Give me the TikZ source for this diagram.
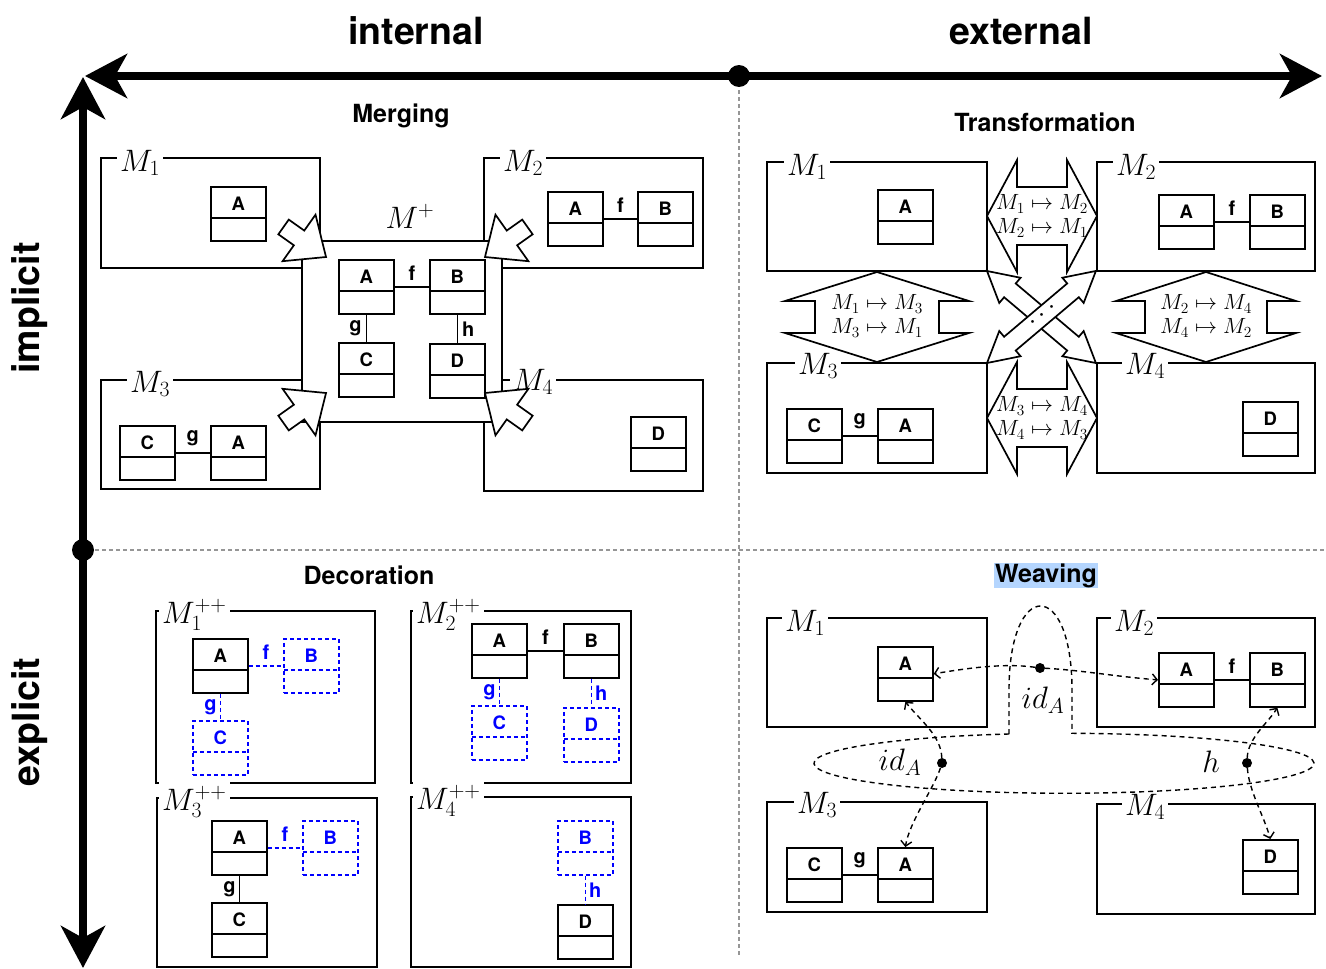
\documentclass[tikz,border=0pt]{standalone}
\usepackage{fix-cm}
\usepackage{fontspec}
\newfontfamily\hv{TeX Gyre Heros}
\usetikzlibrary{arrows.meta,calc}
\newcommand\ClsFont{\hv\bfseries\fontsize{18.5}{21}\selectfont}
\newcommand\LabFont{\hv\bfseries\fontsize{20}{22}\selectfont}
\newcommand\TitleFont{\hv\bfseries\fontsize{25}{28}\selectfont}
\newcommand\AxisFont{\hv\bfseries\fontsize{37.5}{40}\selectfont}
\newcommand\MFont{\fontsize{31}{34}\selectfont}
\newcommand\ArrFont{\fontsize{22}{24}\selectfont}
\definecolor{hl}{RGB}{180,213,254}
\definecolor{divgray}{RGB}{150,150,150}
\tikzset{
  pics/dblarrow/.style n args={4}{code={
    \draw[shp] (0,0) -- (#2,-#3) -- (#2,-#4) -- ({#1-#2},-#4) -- ({#1-#2},-#3) -- (#1,0)
      -- ({#1-#2},#3) -- ({#1-#2},#4) -- (#2,#4) -- (#2,#3) -- cycle;
  }},
  pics/mrgarrow/.style={code={
    \draw[shp] (0,0) -- (-33,-28.5) -- (-33,-9) -- (-52,-9) -- (-52,9) -- (-33,9) -- (-33,28.5) -- cycle;
  }},
}
\begin{document}
\begin{tikzpicture}[x=1pt,y=-1pt,
  frame/.style={draw, line width=1.9pt},
  mlab/.style={fill=white, inner xsep=3pt, inner ysep=3pt, anchor=base west, font=\MFont},
  dlab/.style={mlab, inner ysep=7pt},
  divider/.style={line width=1.7pt},
  cls/.style={draw, line width=1.7pt, fill=white, minimum width=55pt, minimum height=54pt,
    inner sep=0pt, text height=13pt, text depth=19pt, font=\ClsFont, anchor=north west,
    path picture={\draw[divider] ([yshift=-31pt]path picture bounding box.north west) -- ([yshift=-31pt]path picture bounding box.north east);}},
  dcls/.style={cls, draw=blue, text=blue, dash pattern=on 4pt off 3pt,
    divider/.style={line width=1.7pt, draw=blue, dash pattern=on 4pt off 3pt}},
  conn/.style={draw, line width=1.7pt},
  dconn/.style={draw=blue, line width=1.7pt, dash pattern=on 4pt off 3pt},
  lab/.style={font=\LabFont, inner sep=1pt},
  blab/.style={lab, text=blue},
  shp/.style={draw, fill=white, line width=1.7pt, line join=miter},
  arrtext/.style={align=center, font=\ArrFont, inner sep=0pt},
  divline/.style={draw=divgray, line width=1.3pt, dash pattern=on 4pt off 3pt},
  axis/.style={line width=8pt, {Stealth[length=42pt,width=44pt,inset=12pt]}-{Stealth[length=42pt,width=44pt,inset=12pt]}},
  bigdot/.style={circle, fill=black, inner sep=0pt, minimum size=22pt},
  wdot/.style={circle, fill=black, inner sep=0pt, minimum size=10pt},
  lasso/.style={draw, line width=1.4pt, dash pattern=on 5pt off 4pt},
  warr/.style={draw, line width=1.4pt, dash pattern=on 5pt off 4pt, -{Straight Barb[length=5pt,width=11pt]}},
  ttl/.style={font=\TitleFont, anchor=base},
]
\useasboundingbox (0,0) rectangle (1326,969);

% ---------- dividers ----------
\coordinate (vdT) at (739,90); \coordinate (vdB) at (739,955);
\coordinate (hdL) at (95,550); \coordinate (hdR) at (1326,550);
\draw[divline] (vdT) -- (vdB);
\draw[divline] (hdL) -- (hdR);

% ---------- axes ----------
\coordinate (axL) at (85,76); \coordinate (axR) at (1322,76);
\coordinate (ayT) at (83,77); \coordinate (ayB) at (83,968);
\draw[axis] (axL) -- (axR);
\draw[axis] (ayT) -- (ayB);
\node[bigdot] (ox) at (739,76) {};
\node[bigdot] (oy) at (83,550) {};

\node[font=\AxisFont, anchor=base] (hInt) at (416,44) {internal};
\node[font=\AxisFont, anchor=base] (hExt) at (1021,44) {external};
\node[font=\AxisFont, rotate=90] (vImp) at (30,308) {implicit};
\node[font=\AxisFont, rotate=90] (vExp) at (30,722) {explicit};

% ---------- titles ----------
\node[ttl] (tMerg) at (401,122) {Merging};
\node[ttl] (tTrans) at (1045,131) {Transformation};
\node[ttl] (tDeco) at (369,584) {Decoration};
\node[ttl, fill=hl, inner xsep=1pt, inner ysep=0pt, text height=19pt, text depth=6pt] (tWeav) at (1046,582) {Weaving};

% ================= MERGING =================
\draw[frame] (101,158) rectangle (320,268);
\node[mlab] (gM1) at (117,171) {$M_1$};
\node[cls] (gA1) at (210,186) {A};

\draw[frame] (484,158) rectangle (703,268);
\node[mlab] (gM2) at (500,171) {$M_2$};
\node[cls] (gA2) at (547,191) {A};
\node[cls] (gB2) at (637,191) {B};
\draw[conn] (gA2.east) -- node[lab, above=5pt] {f} (gB2.west);

\draw[frame] (101,380) rectangle (320,489);
\node[mlab] (gM3) at (127,392) {$M_3$};
\node[cls] (gC3) at (119,425) {C};
\node[cls] (gA3) at (210,425) {A};
\draw[conn] (gC3.east) -- node[lab, above=5pt] {g} (gA3.west);

\draw[frame] (484,380) rectangle (703,491);
\node[mlab] (gM4) at (510,390) {$M_4$};
\node[cls] (gD4) at (630,416) {D};

\draw[frame, fill=white] (302,241) rectangle (502,422);
\node[font=\MFont, anchor=base] (gMp) at (410,228) {$M^+$};
\node[cls] (pA) at (338,259) {A};
\node[cls] (pB) at (429,259) {B};
\node[cls] (pC) at (338,342) {C};
\node[cls] (pD) at (429,343) {D};
\draw[conn] (pA.east) -- node[lab, above=5pt] {f} (pB.west);
\draw[conn] (pA.south) -- node[lab, left=3pt] {g} (pC.north);
\draw[conn] (pB.south) -- node[lab, right=3pt] {h} (pD.north);

\pic[rotate=-35.3] at (326,257) {mrgarrow};
\pic[rotate=-144.7] at (485,257) {mrgarrow};
\pic[rotate=35.3] at (326,393) {mrgarrow};
\pic[rotate=144.7] at (485,393) {mrgarrow};

% ================= TRANSFORMATION =================
\draw[frame] (767,162) rectangle (987,271);
\node[mlab] (tM1) at (784,175) {$M_1$};
\node[cls] (tA1) at (877,189) {A};

\draw[frame] (1097,162) rectangle (1315,271);
\node[mlab] (tM2) at (1113,175) {$M_2$};
\node[cls] (tA2) at (1158,194) {A};
\node[cls] (tB2) at (1249,194) {B};
\draw[conn] (tA2.east) -- node[lab, above=5pt] {f} (tB2.west);

\draw[frame] (767,363) rectangle (987,473);
\node[mlab] (tM3) at (795,374) {$M_3$};
\node[cls] (tC3) at (786,408) {C};
\node[cls] (tA3) at (877,408) {A};
\draw[conn] (tC3.east) -- node[lab, above=5pt] {g} (tA3.west);

\draw[frame] (1097,363) rectangle (1315,473);
\node[mlab] (tM4) at (1122,374) {$M_4$};
\node[cls] (tD4) at (1242,401) {D};

\pic at (987,216) {dblarrow={110}{30}{56}{29}};
\pic at (987,418) {dblarrow={110}{30}{56}{29}};
\pic[rotate=-90] at (877,272) {dblarrow={90}{29}{92}{62}};
\pic[rotate=-90] at (1206,272) {dblarrow={90}{29}{90}{61}};
\pic[rotate=-40.2] at (987,271) {dblarrow={142.6}{30}{16.5}{9}};
\pic[rotate=40.2] at (987,363) {dblarrow={142.6}{30}{16.5}{9}};

\node[arrtext] (t12) at (1042,216) {$M_1\mapsto M_2$\\$M_2\mapsto M_1$};
\node[arrtext] (t34) at (1042,418) {$M_3\mapsto M_4$\\$M_4\mapsto M_3$};
\node[arrtext] (t13) at (877,316) {$M_1\mapsto M_3$\\$M_3\mapsto M_1$};
\node[arrtext] (t24) at (1206,316) {$M_2\mapsto M_4$\\$M_4\mapsto M_2$};
\node[rotate=40.2, font=\fontsize{27}{30}\selectfont, inner sep=0pt] (tdots) at (1043,315) {$\cdots$};

% ================= DECORATION =================
\draw[frame] (156,611) rectangle (375,783);
\node[dlab] (dM1) at (159,623) {$M^{++}_1$};
\node[cls] (dA1) at (192,638) {A};
\node[dcls] (dB1) at (283,638) {B};
\node[dcls] (dC1) at (192,720) {C};
\draw[dconn] (dA1.east) -- node[blab, above=5pt] {f} (dB1.west);
\draw[dconn] (dA1.south) -- node[blab, left=2pt] {g} (dC1.north);

\draw[frame] (411,611) rectangle (631,783);
\node[dlab] (dM2) at (413,623) {$M^{++}_2$};
\node[cls] (dA2) at (471,623) {A};
\node[cls] (dB2) at (563,623) {B};
\node[dcls] (dC2) at (471,705) {C};
\node[dcls] (dD2) at (563,707) {D};
\draw[conn] (dA2.east) -- node[lab, above=5pt] {f} (dB2.west);
\draw[dconn] (dA2.south) -- node[blab, left=2pt] {g} (dC2.north);
\draw[dconn] (dB2.south) -- node[blab, right=2pt] {h} (dD2.north);

\draw[frame] (157,798) rectangle (377,967);
\node[dlab] (dM3) at (159,810) {$M^{++}_3$};
\node[cls] (dA3) at (211,820) {A};
\node[dcls] (dB3) at (302,820) {B};
\node[cls] (dC3) at (211,902) {C};
\draw[dconn] (dA3.east) -- node[blab, above=5pt] {f} (dB3.west);
\draw[conn] (dA3.south) -- node[lab, left=2pt] {g} (dC3.north);

\draw[frame] (411,797) rectangle (631,967);
\node[dlab] (dM4) at (413,809) {$M^{++}_4$};
\node[dcls] (dB4) at (557,820) {B};
\node[cls] (dD4) at (557,904) {D};
\draw[dconn] (dB4.south) -- node[blab, right=2pt] {h} (dD4.north);

% ================= WEAVING =================
\draw[frame] (767,618) rectangle (987,727);
\node[mlab] (wM1) at (782,631) {$M_1$};
\node[cls] (wA1) at (877,646) {A};

\draw[frame] (1097,618) rectangle (1315,727);
\node[mlab] (wM2) at (1111,631) {$M_2$};
\node[cls] (wA2) at (1158,652) {A};
\node[cls] (wB2) at (1249,652) {B};
\draw[conn] (wA2.east) -- node[lab, above=5pt] {f} (wB2.west);

\draw[frame] (767,802) rectangle (987,912);
\node[mlab] (wM3) at (794,813) {$M_3$};
\node[cls] (wC3) at (786,847) {C};
\node[cls] (wA3) at (877,847) {A};
\draw[conn] (wC3.east) -- node[lab, above=5pt] {g} (wA3.west);

\draw[frame] (1097,804) rectangle (1315,914);
\node[mlab] (wM4) at (1122,815) {$M_4$};
\node[cls] (wD4) at (1242,839) {D};

\draw[lasso] (1009,734) arc[start angle=257.3, end angle=-88.17, x radius=250, y radius=30]
  -- (1072,690) .. controls (1072,578) and (1009,578) .. (1009,690) -- cycle;

\node[wdot] (wd1) at (1040,668) {};
\node[wdot] (wd2) at (942,763) {};
\node[wdot] (wd3) at (1247,763) {};

\draw[warr] (wd1) .. controls ($(wd1)+(-35,-5)$) and ($(wA1.east)+(35,-6)$) .. (wA1.east);
\draw[warr] (wd1) .. controls ($(wd1)+(40,2)$) and ($(wA2.west)+(-40,-3)$) .. (wA2.west);
\draw[warr] (wd2) .. controls ($(wd2)+(-1,-28)$) and ($(wA1.south)+(14,18)$) .. (wA1.south);
\draw[warr] (wd2) .. controls ($(wd2)+(-8,25)$) and ($(wA3.north)+(4,-25)$) .. (wA3.north);
\draw[warr] (wd3) .. controls ($(wd3)+(1,-25)$) and ($(wB2.south)+(-10,16)$) .. (wB2.south);
\draw[warr] (wd3) .. controls ($(wd3)+(2,28)$) and ($(wD4.north)+(-6,-22)$) .. (wD4.north);

\node[font=\MFont] (wl1) at (1043,700) {$id_A$};
\node[font=\MFont] (wl2) at (900,762) {$id_A$};
\node[font=\MFont] (wl3) at (1211,762) {$h$};
\end{tikzpicture}
\end{document}
